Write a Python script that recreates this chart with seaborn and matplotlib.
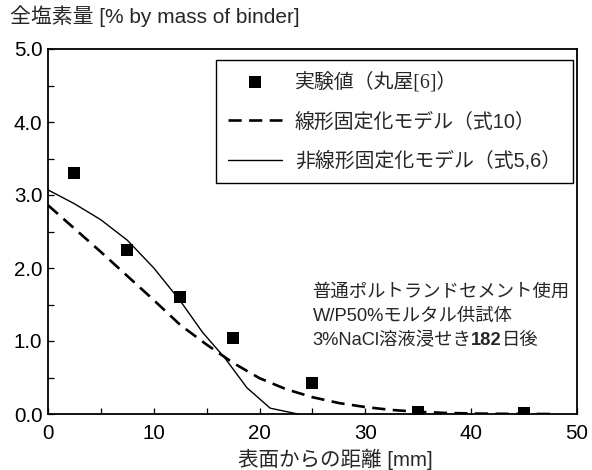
import numpy as np
import pandas as pd
import matplotlib.pyplot as plt
from matplotlib.ticker import MultipleLocator, FormatStrFormatter
import seaborn as sns

# measured chloride profile (Maruya [6]) and the two model curves
depth_obs = [2.5, 7.5, 12.5, 17.5, 25, 35, 45]
cl_obs = [3.30, 2.25, 1.60, 1.04, 0.42, 0.03, 0.02]

depth_lin = [0, 2.5, 5, 7.5, 10, 12.5, 15, 17.5, 20, 22.5, 25, 27.5, 30,
             32.5, 35, 37.5, 40, 42.5, 45, 48]
cl_lin = [2.86, 2.54, 2.22, 1.89, 1.56, 1.22, 0.95, 0.70, 0.49, 0.34, 0.23,
          0.15, 0.095, 0.055, 0.03, 0.015, 0.007, 0.003, 0.001, 0.0]

depth_nl = [0, 2.5, 5, 7.5, 10, 12.5, 14.6, 16.7, 18.8, 21.0, 23.6]
cl_nl = [3.07, 2.88, 2.66, 2.38, 2.00, 1.55, 1.12, 0.77, 0.36, 0.08, 0.0]

lab_obs = '実験値（丸屋[6]）'
lab_lin = '線形固定化モデル（式10）'
lab_nl = '非線形固定化モデル（式5,6）'

df_obs = pd.DataFrame({'depth': depth_obs, 'cl': cl_obs})
df_lin = pd.DataFrame({'depth': depth_lin, 'cl': cl_lin})
df_nl = pd.DataFrame({'depth': depth_nl, 'cl': cl_nl})

sns.set_style('ticks')
plt.rcParams['font.family'] = ['Liberation Sans', 'Noto Sans CJK JP']
plt.rcParams['axes.unicode_minus'] = False

fig = plt.figure(figsize=(5.92, 4.7), dpi=100)
ax = fig.add_axes([48 / 592, 56 / 470, 529 / 592, 365 / 470])

sns.lineplot(data=df_lin, x='depth', y='cl', ax=ax, color='black', lw=1.9,
             linestyle=(0, (5.0, 2.8)), label=lab_lin)
sns.lineplot(data=df_nl, x='depth', y='cl', ax=ax, color='black', lw=1.0,
             label=lab_nl)
sns.scatterplot(data=df_obs, x='depth', y='cl', ax=ax, color='black',
                marker='s', s=64, linewidth=0, label=lab_obs, zorder=5)

ax.set_xlim(0, 50)
ax.set_ylim(0, 5)
ax.xaxis.set_major_locator(MultipleLocator(10))
ax.xaxis.set_minor_locator(MultipleLocator(5))
ax.yaxis.set_major_locator(MultipleLocator(1))
ax.yaxis.set_minor_locator(MultipleLocator(0.5))
ax.yaxis.set_major_formatter(FormatStrFormatter('%.1f'))
ax.tick_params(which='both', direction='in', length=4.5, width=0.9,
               labelsize=14.8, colors='black')
ax.tick_params(axis='x', pad=7)
ax.tick_params(axis='y', pad=4)
for sp in ax.spines.values():
    sp.set_visible(True)
    sp.set_linewidth(1.3)
    sp.set_color('black')

ax.set_ylabel('')
ax.set_xlabel('表面からの距離 [mm]', fontsize=14.8)
ax.xaxis.set_label_coords(0.5425, -0.094)

fig.text(10 / 592, 1 - 16 / 470, '全塩素量 [% by mass of binder]',
         fontsize=15, va='center', ha='left')

# legend in the order of the original
hs, ls = ax.get_legend_handles_labels()
order = [ls.index(lab_obs), ls.index(lab_lin), ls.index(lab_nl)]
leg = ax.legend([hs[i] for i in order], [ls[i] for i in order],
                loc='upper right', bbox_to_anchor=(0.992, 0.970),
                borderaxespad=0, fontsize=14.3, frameon=True, fancybox=False,
                framealpha=1, edgecolor='black', handlelength=2.7,
                handletextpad=0.65, labelspacing=1.0, borderpad=0.6,
                markerscale=1.15)
leg.get_frame().set_linewidth(1.0)
leg.get_texts()[0].set_family(['Liberation Serif', 'Noto Sans CJK JP'])

# test conditions
ax.text(25, 1.67, '普通ポルトランドセメント使用', fontsize=13.2, va='center')
ax.text(25, 1.33, 'W/P50%モルタル供試体', fontsize=13.2, va='center')
t1 = ax.text(25, 1.01, '3%NaCl溶液浸せき', fontsize=13.2, va='center')
t2 = ax.annotate('182', xy=(1, 0), xycoords=t1, fontsize=13.2,
                 fontweight='bold', va='bottom', ha='left')
ax.annotate('日後', xy=(1, 0), xycoords=t2, fontsize=13.2, va='bottom',
            ha='left')

fig.savefig('out.png', dpi=100)
